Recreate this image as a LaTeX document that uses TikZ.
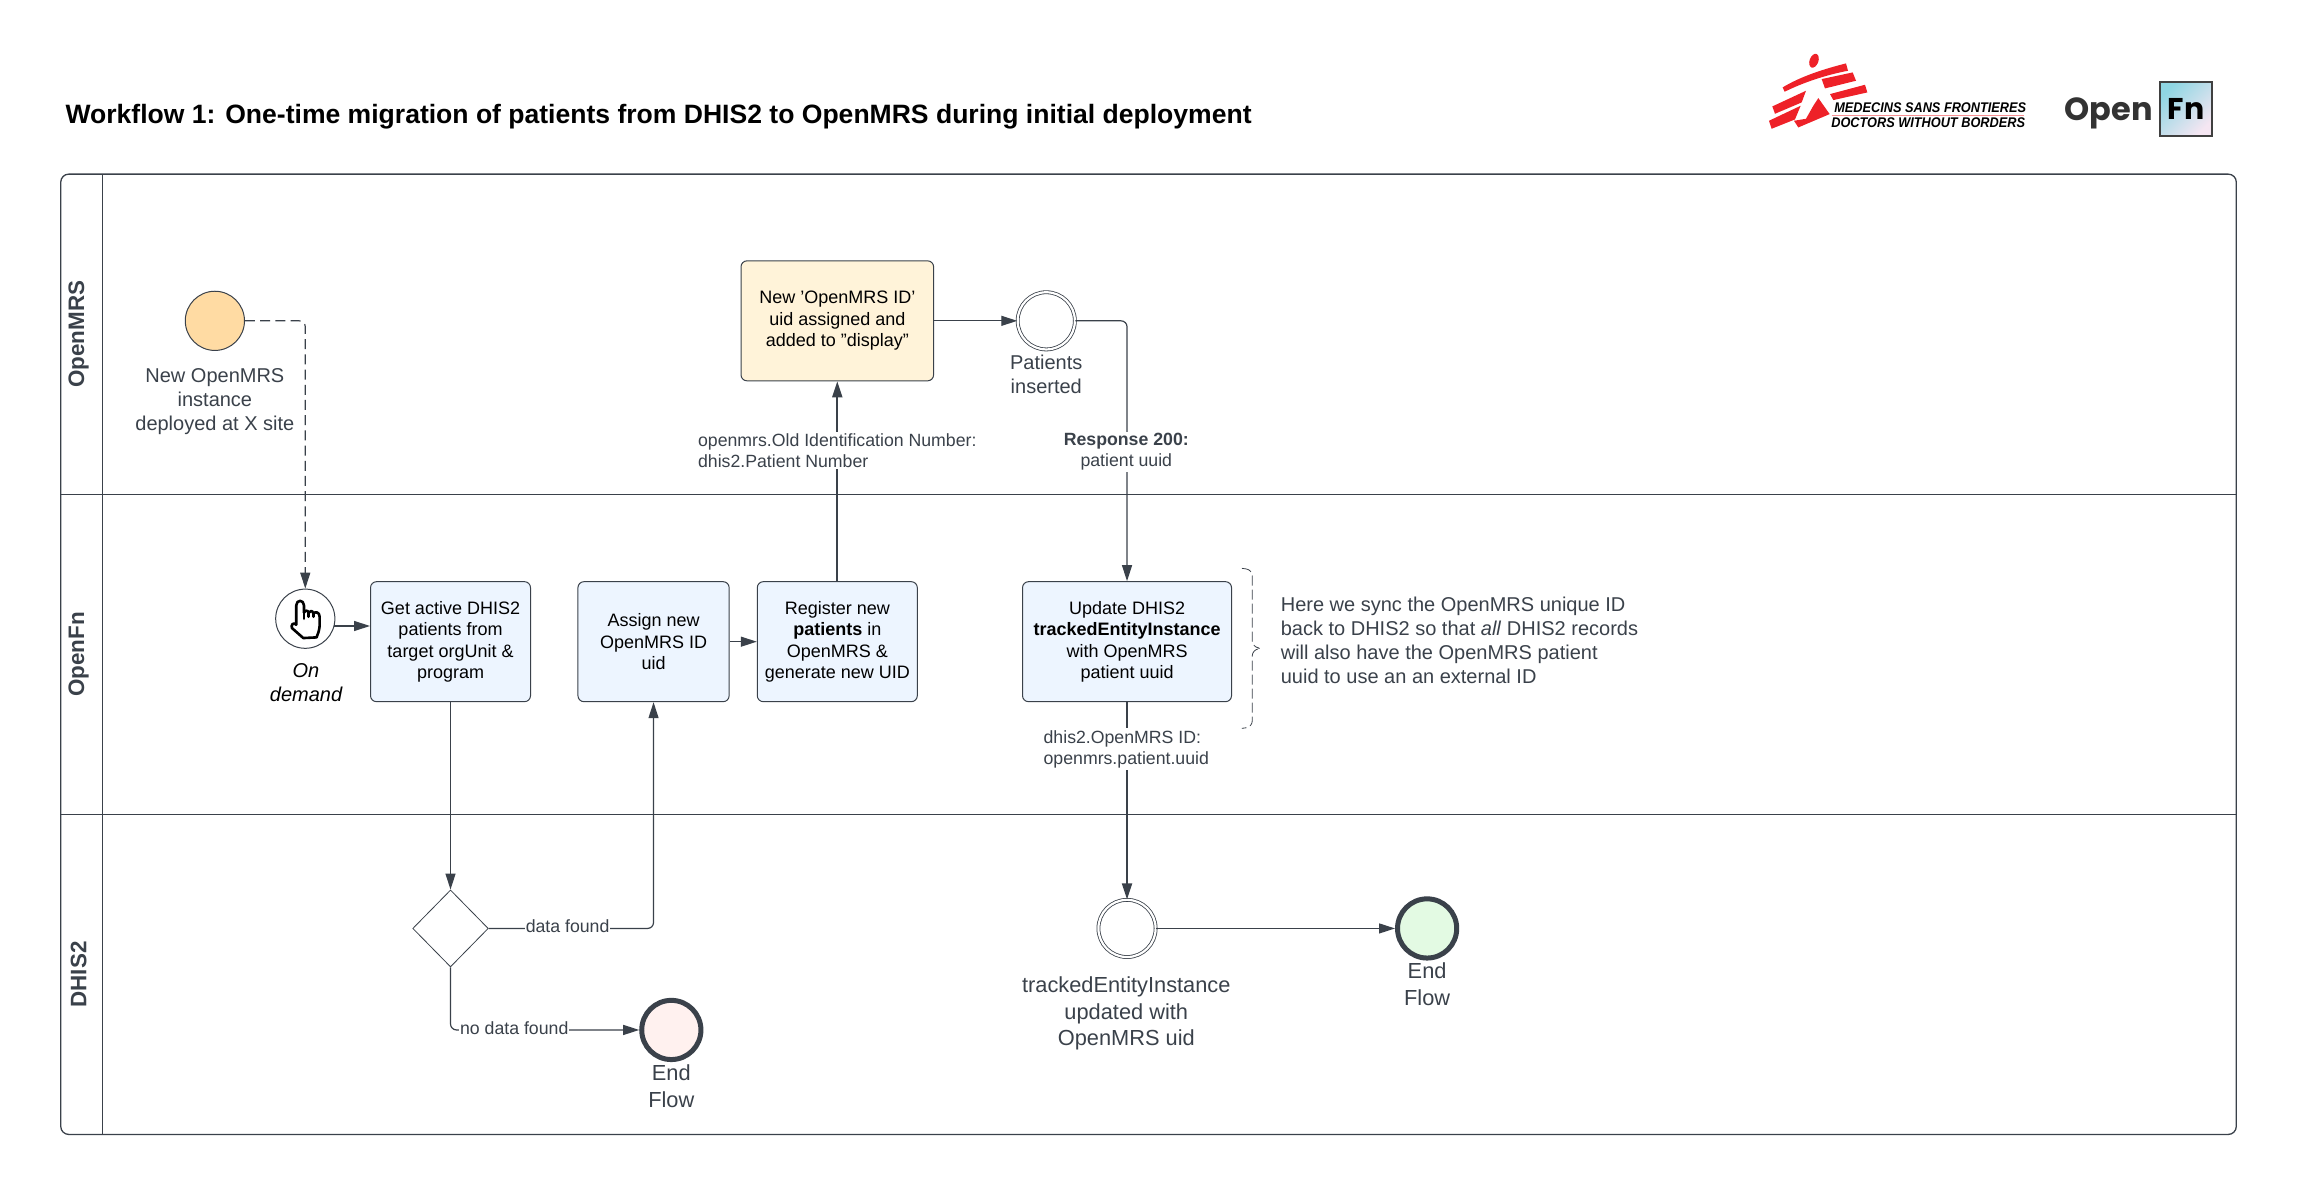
\documentclass[tikz,border=0pt]{standalone}
\usepackage{fontspec}
\setmainfont{Liberation Sans}
\newfontfamily\logofont{Poppins}
\usetikzlibrary{arrows.meta}
\usetikzlibrary{shapes.geometric}
\definecolor{slate}{HTML}{3A414A}
\definecolor{taskblue}{HTML}{EDF5FF}
\definecolor{taskyellow}{HTML}{FFF3D9}
\definecolor{startorange}{HTML}{FFDBA3}
\definecolor{endred}{HTML}{FFF1EF}
\definecolor{endgreen}{HTML}{E3FAE3}
\definecolor{msfred}{HTML}{EE2128}
\definecolor{fnblue}{HTML}{8FD6E3}
\definecolor{fnlilac}{HTML}{BDB2D6}
\definecolor{fnpink}{HTML}{F5E6F2}
\tikzset{
  lane/.style={draw=slate,line width=0.65pt},
  lanetitle/.style={rotate=90,text=slate,font=\fontsize{11.2}{13}\selectfont\bfseries},
  taskbox/.style={draw=slate,line width=0.5pt,rounded corners=3pt,minimum height=60pt,inner sep=0pt,align=center,text=black,font=\fontsize{9}{10.7}\selectfont},
  event/.style={shape=circle,draw=slate,line width=0.5pt,fill=white,minimum size=29.6pt,inner sep=0pt},
  catchevent/.style={event,double=white,double distance=1.1pt,line width=0.4pt,minimum size=28.6pt},
  endevent/.style={event,line width=2.5pt},
  eventlabel/.style={align=center,text=slate,font=\fontsize{10}{12}\selectfont},
  endlabel/.style={align=center,text=slate,font=\fontsize{10.9}{13.3}\selectfont},
  flowlabel/.style={fill=white,inner xsep=0.5pt,inner ysep=1pt,text=slate,font=\fontsize{8.85}{10.4}\selectfont},
  flow/.style={draw=slate,line width=0.6pt,rounded corners=3pt,-{Triangle[length=8pt,width=5pt]}},
  heavyflow/.style={flow,line width=1pt},
  msftext/.style={anchor=west,inner sep=0pt,xscale=0.91,transform shape,font=\fontsize{7}{8}\selectfont\bfseries\itshape},
}
\newcommand{\handicon}[1]{
  \begin{scope}[shift={(#1)},x=0.1667pt,y=-0.1667pt,line width=1.3pt,line join=round,line cap=round]
    \draw (-27,18) -- (-27,-40) .. controls (-27,-58) and (-4,-58) .. (-4,-40) -- (-4,-18)
      .. controls (0,-26) and (8,-26) .. (10,-18) .. controls (14,-25) and (22,-25) .. (24,-16)
      .. controls (30,-22) and (43,-20) .. (43,-6) -- (43,22) .. controls (42,35) and (38,45) .. (34,56)
      -- (-6,58) -- (-40,28) .. controls (-44,20) and (-36,8) .. (-27,18);
    \draw (-4,-18) -- (-4,0);
    \draw (10,-18) -- (10,-6);
    \draw (24,-16) -- (24,-6);
  \end{scope}
}
\newcommand{\msfrunner}[1]{
  \begin{scope}[shift={(#1)},x=0.1667pt,y=-0.1667pt]
    \fill[msfred] (102,60) ellipse [x radius=2.2pt,y radius=3.6pt,rotate=-20];
    \fill[msfred] (8,140) .. controls (60,108) and (130,85) .. (198,68) -- (204,90) .. controls (140,102) and (70,125) .. (14,153) -- cycle;
    \fill[msfred] (125,115) -- (218,95) -- (228,120) -- (135,143) -- cycle;
    \fill[msfred] (150,160) -- (255,132) -- (262,155) -- (160,178) -- cycle;
    \fill[msfred] (-23,197) -- (78,150) -- (65,185) -- (-15,219) -- cycle;
    \fill[msfred] (-33,240) -- (62,195) -- (45,236) -- (-25,264) -- cycle;
    \fill[msfred] (115,172) -- (149,220) -- (55,260) -- (42,240) -- (78,234) -- (100,195) -- cycle;
  \end{scope}
}

\begin{document}
\begin{tikzpicture}[x=0.741pt,y=-0.741pt]
        \useasboundingbox (0,-0.5) rectangle (1568.2,809.2);

        % title
        \node[anchor=west,inner sep=0pt,font=\fontsize{13.27}{16}\selectfont\bfseries] (title) at (44,78) {Workflow 1: One-time migration of patients from DHIS2 to OpenMRS during initial deployment};

        % logos
        \msfrunner{1201.1,27}
        \node[msftext] (msfone) at (1237.5,72) {MEDECINS SANS FRONTIERES};
        \node[msftext] (msftwo) at (1235.5,82.5) {DOCTORS WITHOUT BORDERS};
        \draw[msfred!50,line width=0.3pt] (1236,77) -- (1366,77);
        \node[anchor=west,inner sep=0pt,text=black!80,font=\logofont\fontsize{16}{18}\selectfont\bfseries] (open) at (1393,76) {Open};
        \node[draw=black!75,line width=1.2pt,left color=fnblue,middle color=fnlilac,right color=fnpink,shading angle=45,minimum width=26pt,minimum height=27pt,inner sep=0pt,font=\logofont\fontsize{15}{17}\selectfont\bfseries] (fn) at (1475,73) {Fn};

        % lanes
        \draw[lane,rounded corners=4pt] (41,117) rectangle (1509,765);
        \draw[lane] (69,117) -- (69,765);
        \draw[lane] (41,333) -- (1509,333);
        \draw[lane] (41,549) -- (1509,549);
        \node[lanetitle] (lanemrs) at (53,225) {OpenMRS};
        \node[lanetitle] (lanefn) at (53,441) {OpenFn};
        \node[lanetitle] (lanedhis) at (53,657) {DHIS2};

        % openmrs lane
        \node[event,fill=startorange] (start) at (145,216) {};
        \node[eventlabel] (startlabel) at (145,270.5) {New OpenMRS\\instance\\deployed at X site};
        \node[taskbox,fill=taskyellow,minimum width=96.3pt] (assigned) at (565,216) {New 'OpenMRS ID'\\uid assigned and\\added to "display"};
        \node[catchevent] (inserted) at (706,216) {};
        \node[eventlabel] (insertedlabel) at (706,252) {Patients\\inserted};

        % openfn lane
        \node[event] (demand) at (206,417) {};
        \handicon{demand.center}
        \node[eventlabel,font=\fontsize{10}{12}\selectfont\itshape,text=black] (demandlabel) at (206.5,460) {On\\demand};
        \node[taskbox,fill=taskblue,minimum width=80pt] (getactive) at (304,432.5) {Get active DHIS2\\patients from\\target orgUnit \&\\program};
        \node[taskbox,fill=taskblue,minimum width=75.6pt] (newuid) at (441,432.5) {Assign new\\OpenMRS ID\\uid};
        \node[taskbox,fill=taskblue,minimum width=80pt] (register) at (565,432.5) {Register new\\\textbf{patients} in\\OpenMRS \&\\generate new UID};
        \node[taskbox,fill=taskblue,minimum width=104.5pt] (update) at (760.5,432.5) {Update DHIS2\\\textbf{trackedEntityInstance}\\with OpenMRS\\patient uuid};
        \node[anchor=west,align=left,inner sep=0pt,text=slate,font=\fontsize{10}{12}\selectfont] (syncnote) at (864,431.5) {Here we sync the OpenMRS unique ID\\back to DHIS2 so that \textit{all} DHIS2 records\\will also have the OpenMRS patient\\uuid to use an an external ID};

        % dhis2 lane
        \node[diamond,draw=slate,line width=0.4pt,fill=white,aspect=1,minimum width=37.8pt,minimum height=38.5pt,inner sep=0pt] (found) at (304,626) {};
        \node[endevent,fill=endred] (endnone) at (453,694.5) {};
        \node[endlabel] (endnonelabel) at (453,732.5) {End\\Flow};
        \node[catchevent] (updated) at (760.5,626) {};
        \node[endlabel] (updatedlabel) at (760,683.5) {trackedEntityInstance\\updated with\\OpenMRS uid};
        \node[endevent,fill=endgreen] (enddone) at (963,626) {};
        \node[endlabel] (enddonelabel) at (963,663.5) {End\\Flow};

        % connectors
        \draw[flow,dash pattern=on 5pt off 2.6pt] (start.east) -| (demand.north);
        \draw[flow] (demand.-14) -- (demand.-14 -| getactive.west);
        \draw[flow] (getactive.south) -- (found.north);
        \draw[flow] (found.east) -| (newuid.south);
        \draw[flow] (found.south) |- (endnone.west);
        \draw[flow] (newuid.east) -- (register.west);
        \draw[heavyflow] (register.north) -- (assigned.south);
        \draw[flow] (assigned.east) -- (inserted.west);
        \draw[flow] (inserted.east) -| (update.north);
        \draw[heavyflow] (update.south) -- (updated.north);
        \draw[flow] (updated.east) -- (enddone.west);

        % connector labels
        \node[flowlabel,align=left] (mapping) at (565,303.5) {openmrs.Old Identification Number:\\dhis2.Patient Number};
        \node[flowlabel,align=center] (response) at (760,304.5) {\textbf{Response 200:}\\patient uuid};
        \node[flowlabel,align=left] (backmap) at (760,505) {dhis2.OpenMRS ID:\\openmrs.patient.uuid};
        \node[flowlabel] (datafound) at (383,624.5) {data found};
        \node[flowlabel] (nodata) at (347,693.5) {no data found};

        % note brace
        \draw[slate,line width=0.4pt,dash pattern=on 5pt off 2pt,rounded corners=3pt] (838,383) -- (845,384) -- (845,436) -- (852,437) -- (845,438) -- (845,490) -- (838,491);

    \end{tikzpicture}
\end{document}
